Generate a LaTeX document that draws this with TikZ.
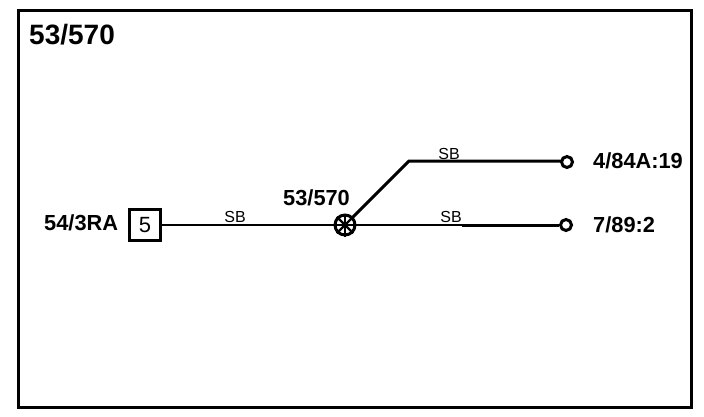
\documentclass[tikz,border=0pt]{standalone}
\usepackage{fontspec}
\setmainfont{Liberation Sans}
\tikzset{
  lbl/.style={font=\fontsize{21.8}{22}\selectfont\bfseries,inner sep=0pt,anchor=base west},
  title/.style={font=\fontsize{28}{28}\selectfont\bfseries,inner sep=0pt,anchor=base west},
  wirelabel/.style={font=\fontsize{16}{16}\selectfont,inner sep=0pt,anchor=base},
  wire/.style={line width=2pt,black},
  thick wire/.style={line width=3pt,black},
  term/.style={circle,draw=black,line width=3pt,fill=white,minimum size=11pt,inner sep=0pt},
  numbox/.style={rectangle,draw=black,line width=3pt,fill=white,minimum size=31pt,inner sep=0pt,font=\fontsize{22}{22}\selectfont},
  splice/.style={circle,draw=black,line width=3pt,fill=white,minimum size=20pt,inner sep=0pt},
  spoke/.style={line width=2.4pt},
}
\begin{document}
\begin{tikzpicture}[x=1pt,y=-1pt]
\useasboundingbox (0,0) rectangle (704,416);
\draw[line width=3pt] (18,10) rectangle (691,407);
\node[title] at (29,44) {53/570};
\node[lbl] at (44,230) {54/3RA};
\node[lbl] at (283,205) {53/570};
\node[lbl] at (593,168) {4/84A:19};
\node[lbl] at (593,232) {7/89:2};
\node[numbox] (box) at (145,225) {5};
\coordinate (sp) at (345,225);
\node[term] (t1) at (567,162) {};
\node[term] (t2) at (566,225) {};
\coordinate (bend) at (409,161);
\coordinate (mid) at (462,225);
\draw[wire] (box.east) -- (sp);
\draw[wire] (sp) -- (mid);
\draw[thick wire] (mid) -- (t2.west);
\draw[thick wire,line join=miter] (sp) -- (bend) -- (t1.west |- bend) -- (t1.west);
\node[splice] (spn) at (sp) {};
\draw[spoke] (spn.north) -- (spn.south);
\draw[spoke] (spn.north east) -- (spn.south west);
\draw[spoke] (spn.north west) -- (spn.south east);
\draw[spoke] (spn.west) -- (spn.east);
\node[wirelabel] at (235,222) {SB};
\node[wirelabel] at (449,159) {SB};
\node[wirelabel] at (451,222) {SB};
\end{tikzpicture}
\end{document}
